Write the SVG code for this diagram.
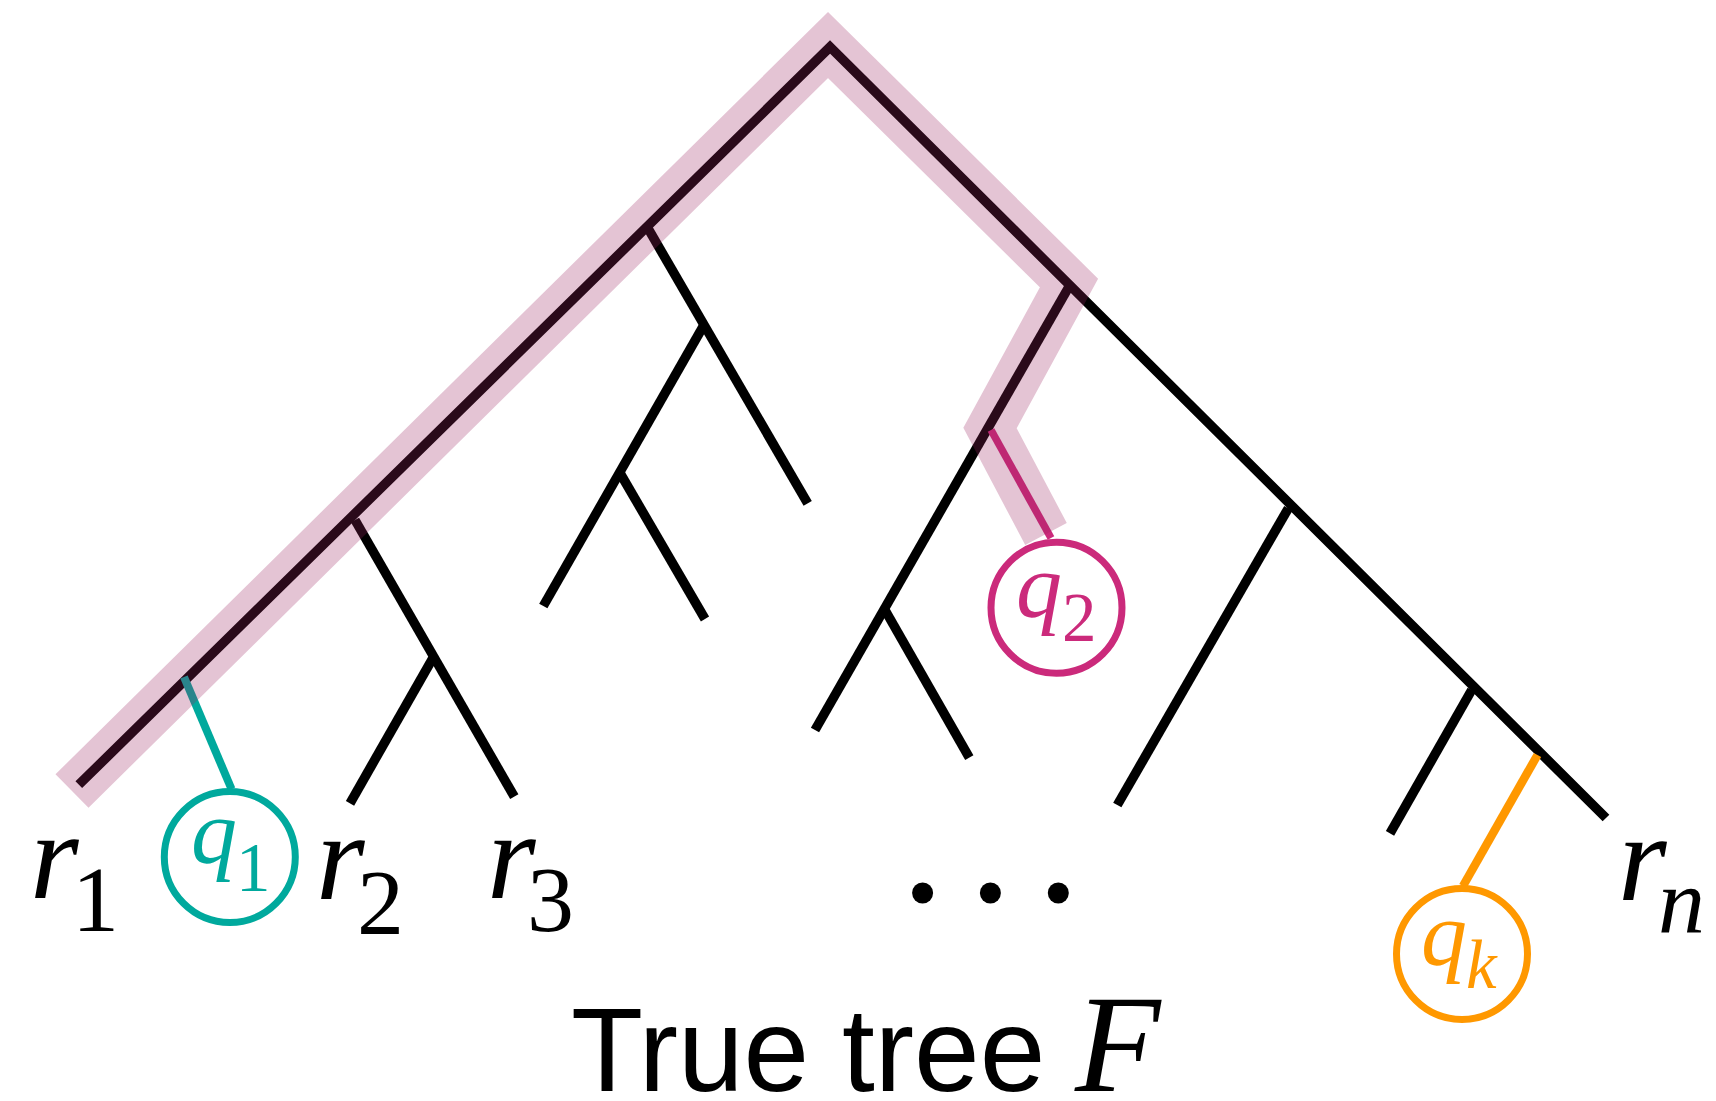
<svg xmlns="http://www.w3.org/2000/svg" width="1716" height="1101" viewBox="0 0 1716 1101">
<style>
.e{stroke:#000;stroke-width:9.5;fill:none;stroke-linecap:butt;stroke-linejoin:miter}
.hl{stroke:rgb(155,38,97);stroke-opacity:0.27;stroke-width:47;fill:none;stroke-linecap:butt;stroke-linejoin:miter;stroke-miterlimit:10}
.m{font-family:"Liberation Serif","Times New Roman",serif;font-style:italic}
.d{font-family:"Liberation Serif","Times New Roman",serif}
.t{font-family:"Liberation Sans",Arial,sans-serif}
.circ{fill:#fff;stroke-width:7}
</style>
<g id="connectors">
  <polyline class="e" points="78.8,784.7 830,47 1606,818"/>
  <line class="e" x1="647" y1="226.7" x2="807.7" y2="503.4"/>
  <line class="e" x1="703" y1="326.7" x2="543.3" y2="606"/>
  <line class="e" x1="620" y1="473" x2="705" y2="619"/>
  <line class="e" x1="355" y1="520" x2="514.3" y2="796.7"/>
  <line class="e" x1="432.7" y1="658.3" x2="350" y2="803.3"/>
  <line class="e" x1="1068.5" y1="287.5" x2="815" y2="730"/>
  <line class="e" x1="885" y1="610" x2="969.3" y2="757.7"/>
  <line class="e" x1="1288.3" y1="508.3" x2="1117.3" y2="805"/>
  <line class="e" x1="1471.7" y1="690" x2="1390" y2="833.3"/>
  <line x1="184" y1="677" x2="231.5" y2="789" stroke="#00a99d" stroke-width="8"/>
  <line x1="991" y1="430" x2="1051" y2="538" stroke="#cb2a7b" stroke-width="7.5"/>
  <line x1="1537.5" y1="755" x2="1463" y2="886" stroke="#ff9800" stroke-width="8.5"/>
</g>
<g id="highlight">
  <polyline class="hl" points="72,791 828,45 1069,283 990,428 1046,534"/>
</g>
<g id="node-q1">
  <circle class="circ" cx="229.8" cy="857" r="65.5" stroke="#00a99d"/>
  <text class="m" x="191" y="863" font-size="92" fill="#00a99d">q</text>
  <text class="d" x="236" y="891" font-size="69" fill="#00a99d">1</text>
</g>
<g id="node-q2">
  <circle class="circ" cx="1056.5" cy="607.7" r="65.5" stroke="#cb2a7b"/>
  <text class="m" x="1016" y="617" font-size="92" fill="#cb2a7b">q</text>
  <text class="d" x="1062" y="641" font-size="69" fill="#cb2a7b">2</text>
</g>
<g id="node-qk">
  <circle class="circ" cx="1462" cy="954" r="65.5" stroke="#ff9800"/>
  <text class="m" x="1421" y="965" font-size="92" fill="#ff9800">q</text>
  <text class="m" x="1466" y="988" font-size="69" fill="#ff9800">k</text>
</g>
<g id="leaf-r1">
  <text class="m" x="30" y="898" font-size="125">r</text>
  <text class="d" x="72" y="931" font-size="94">1</text>
</g>
<g id="leaf-r2">
  <text class="m" x="316" y="899" font-size="125">r</text>
  <text class="d" x="357" y="934" font-size="94">2</text>
</g>
<g id="leaf-r3">
  <text class="m" x="487" y="898" font-size="125">r</text>
  <text class="d" x="527" y="931" font-size="94">3</text>
</g>
<g id="leaf-rn">
  <text class="m" x="1618" y="900" font-size="125">r</text>
  <text class="m" x="1658" y="933" font-size="94">n</text>
</g>
<g id="ellipsis">
  <circle cx="922.6" cy="893" r="10.5"/>
  <circle cx="990.4" cy="893" r="10.5"/>
  <circle cx="1058.3" cy="893" r="10.5"/>
</g>
<g id="title">
  <text class="t" x="571" y="1091" font-size="118">True tree</text>
  <text class="m" x="1075" y="1091" font-size="140">F</text>
</g>
</svg>
